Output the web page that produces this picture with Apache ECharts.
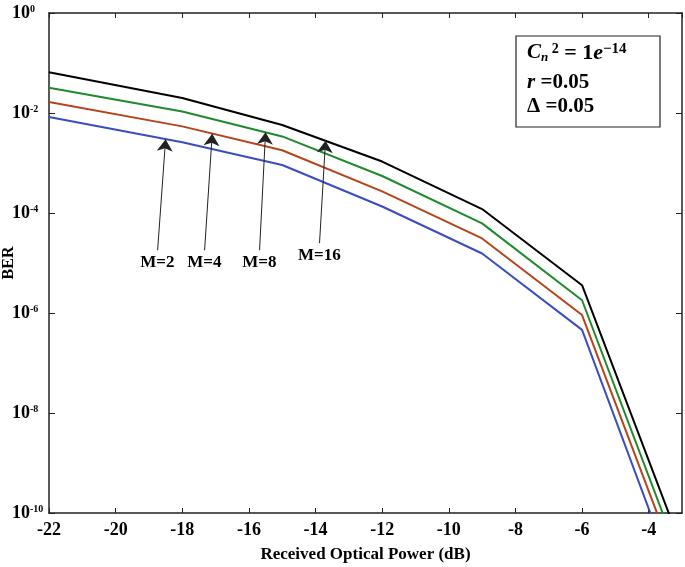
<!DOCTYPE html>
<html><head><meta charset="utf-8">
<script src="https://cdn.jsdelivr.net/npm/echarts@6/dist/echarts.min.js"></script>
<style>html,body{margin:0;padding:0;background:#fff}#c{width:685px;height:567px}</style>
</head><body><div id="c"></div>
<script>
// Received optical power (dB)
const power = [-22, -18, -15, -12, -9, -6, -3];
// BER for each modulation order
const berM2  = [8.3e-3, 2.6e-3, 9.1e-4, 1.35e-4, 1.55e-5, 4.6e-7, 2.0e-12];
const berM4  = [1.66e-2, 5.4e-3, 1.8e-3, 2.7e-4, 3.1e-5, 9.1e-7, 4.8e-12];
const berM8  = [3.2e-2, 1.07e-2, 3.4e-3, 5.5e-4, 6.2e-5, 1.8e-6, 9.5e-12];
const berM16 = [6.5e-2, 2.0e-2, 5.75e-3, 1.07e-3, 1.2e-4, 3.6e-6, 2.0e-11];
const seriesNames = ['M=2', 'M=4', 'M=8', 'M=16'];
// annotation arrows (data coordinates): tail and head
const annTail = [[-18.74, 1.8e-5], [-17.33, 1.8e-5], [-15.68, 1.8e-5], [-13.88, 2.5e-5]];
const annHead = [[-18.5, 2.98e-3], [-17.1, 3.85e-3], [-15.5, 4.1e-3], [-13.7, 2.78e-3]];

const colors = ['#3b4cc0', '#b5441c', '#1e8a2a', '#000000'];
const allBer = [berM2, berM4, berM8, berM16];
const FONT = 'Liberation Serif';

const chart = echarts.init(document.getElementById('c'), null, {renderer: 'canvas'});

const series = allBer.map((arr, i) => ({
  name: seriesNames[i],
  type: 'line',
  data: power.map((p, j) => [p, arr[j]]),
  showSymbol: false,
  symbol: 'none',
  lineStyle: {color: colors[i], width: 2},
  clip: true,
  z: 3
}));

series.push({
  type: 'line',
  data: [],
  silent: true,
  z: 5,
  markLine: {
    silent: true,
    symbol: ['none', 'arrow'],
    symbolSize: 12,
    lineStyle: {color: '#222', width: 1, type: 'solid'},
    itemStyle: {color: '#111'},
    label: {
      show: true,
      position: 'start',
      distance: 4,
      formatter: p => p.name,
      fontFamily: FONT, fontWeight: 'bold', fontSize: 17, color: '#000'
    },
    data: annTail.map((t, i) => [
      {name: seriesNames[i], coord: t},
      {coord: annHead[i]}
    ])
  }
});

const yLab = v => {
  const e = Math.round(Math.log10(v));
  return '{b|10}{s|' + e + '}';
};

const option = {
  animation: false,
  backgroundColor: '#fff',
  grid: {left: 49, top: 13, right: 3, bottom: 54, containLabel: false, outerBoundsMode: 'none'},
  xAxis: [{
    type: 'value', min: -22, max: -3, interval: 2,
    position: 'bottom',
    name: 'Received Optical Power (dB)',
    nameLocation: 'middle', nameGap: 33, nameMoveOverlap: false,
    nameTextStyle: {fontFamily: FONT, fontWeight: 'bold', fontSize: 17, color: '#000'},
    axisLine: {onZero: false, lineStyle: {color: '#222', width: 1.5}},
    axisTick: {inside: true, length: 5, lineStyle: {color: '#222'}},
    axisLabel: {showMaxLabel: false, margin: 8, fontFamily: FONT, fontWeight: 'bold', fontSize: 18, color: '#000'},
    splitLine: {show: false}
  }, {
    type: 'value', min: -22, max: -3, interval: 2,
    position: 'top',
    axisLine: {onZero: false, lineStyle: {color: '#222', width: 1.5}},
    axisTick: {inside: true, length: 5, lineStyle: {color: '#222'}},
    axisLabel: {show: false},
    splitLine: {show: false}
  }],
  yAxis: [{
    type: 'log', logBase: 100, min: 1e-10, max: 1,
    position: 'left',
    name: 'BER',
    nameLocation: 'middle', nameGap: 32, nameMoveOverlap: false,
    nameTextStyle: {fontFamily: FONT, fontWeight: 'bold', fontSize: 16, color: '#000'},
    axisLine: {onZero: false, lineStyle: {color: '#222', width: 1.5}},
    axisTick: {inside: true, length: 6, lineStyle: {color: '#222'}},
    axisLabel: {
      formatter: yLab, align: 'left', margin: 37,
      rich: {
        b: {fontFamily: FONT, fontWeight: 'bold', fontSize: 18, color: '#000'},
        s: {fontFamily: FONT, fontWeight: 'bold', fontSize: 10, color: '#000', verticalAlign: 'top', padding: [0, 0, 8, 0]}
      }
    },
    splitLine: {show: false}
  }, {
    type: 'log', logBase: 100, min: 1e-10, max: 1,
    position: 'right',
    axisLine: {onZero: false, lineStyle: {color: '#222', width: 1.5}},
    axisTick: {inside: true, length: 6, lineStyle: {color: '#222'}},
    axisLabel: {show: false},
    splitLine: {show: false}
  }],
  series: series,
  graphic: [{
    type: 'rect',
    shape: {x: 516, y: 36, width: 144, height: 91},
    style: {fill: '#fff', stroke: '#222', lineWidth: 1.2},
    z: 10
  }, {
    type: 'text',
    x: 527, y: 42,
    z: 11,
    style: {
      text: '{c|C}{sub|n}{sup| 2}{t| = 1}{e|e}{sup2|−14}',
      rich: {
        c: {fontFamily: FONT, fontWeight: 'bold', fontStyle: 'italic', fontSize: 21, fill: '#000'},
        sub: {fontFamily: FONT, fontWeight: 'bold', fontStyle: 'italic', fontSize: 13, fill: '#000', verticalAlign: 'bottom', padding: [7, 0, 0, 0]},
        sup: {fontFamily: FONT, fontWeight: 'bold', fontSize: 14, fill: '#000', verticalAlign: 'top', padding: [0, 0, 6, 0]},
        t: {fontFamily: FONT, fontWeight: 'bold', fontSize: 22, fill: '#000'},
        e: {fontFamily: FONT, fontWeight: 'bold', fontStyle: 'italic', fontSize: 22, fill: '#000'},
        sup2: {fontFamily: FONT, fontWeight: 'bold', fontSize: 15, fill: '#000', verticalAlign: 'top', padding: [0, 0, 6, 0]}
      }
    }
  }, {
    type: 'text',
    x: 527, y: 72, z: 11,
    style: {
      text: '{i|r} =0.05',
      fontFamily: FONT, fontWeight: 'bold', fontSize: 21, fill: '#000',
      rich: {i: {fontFamily: FONT, fontWeight: 'bold', fontStyle: 'italic', fontSize: 21, fill: '#000'}}
    }
  }, {
    type: 'text',
    x: 527, y: 96, z: 11,
    style: {text: 'Δ =0.05', fontFamily: FONT, fontWeight: 'bold', fontSize: 21, fill: '#000'}
  }]
};
chart.setOption(option);
</script>
</body></html>
